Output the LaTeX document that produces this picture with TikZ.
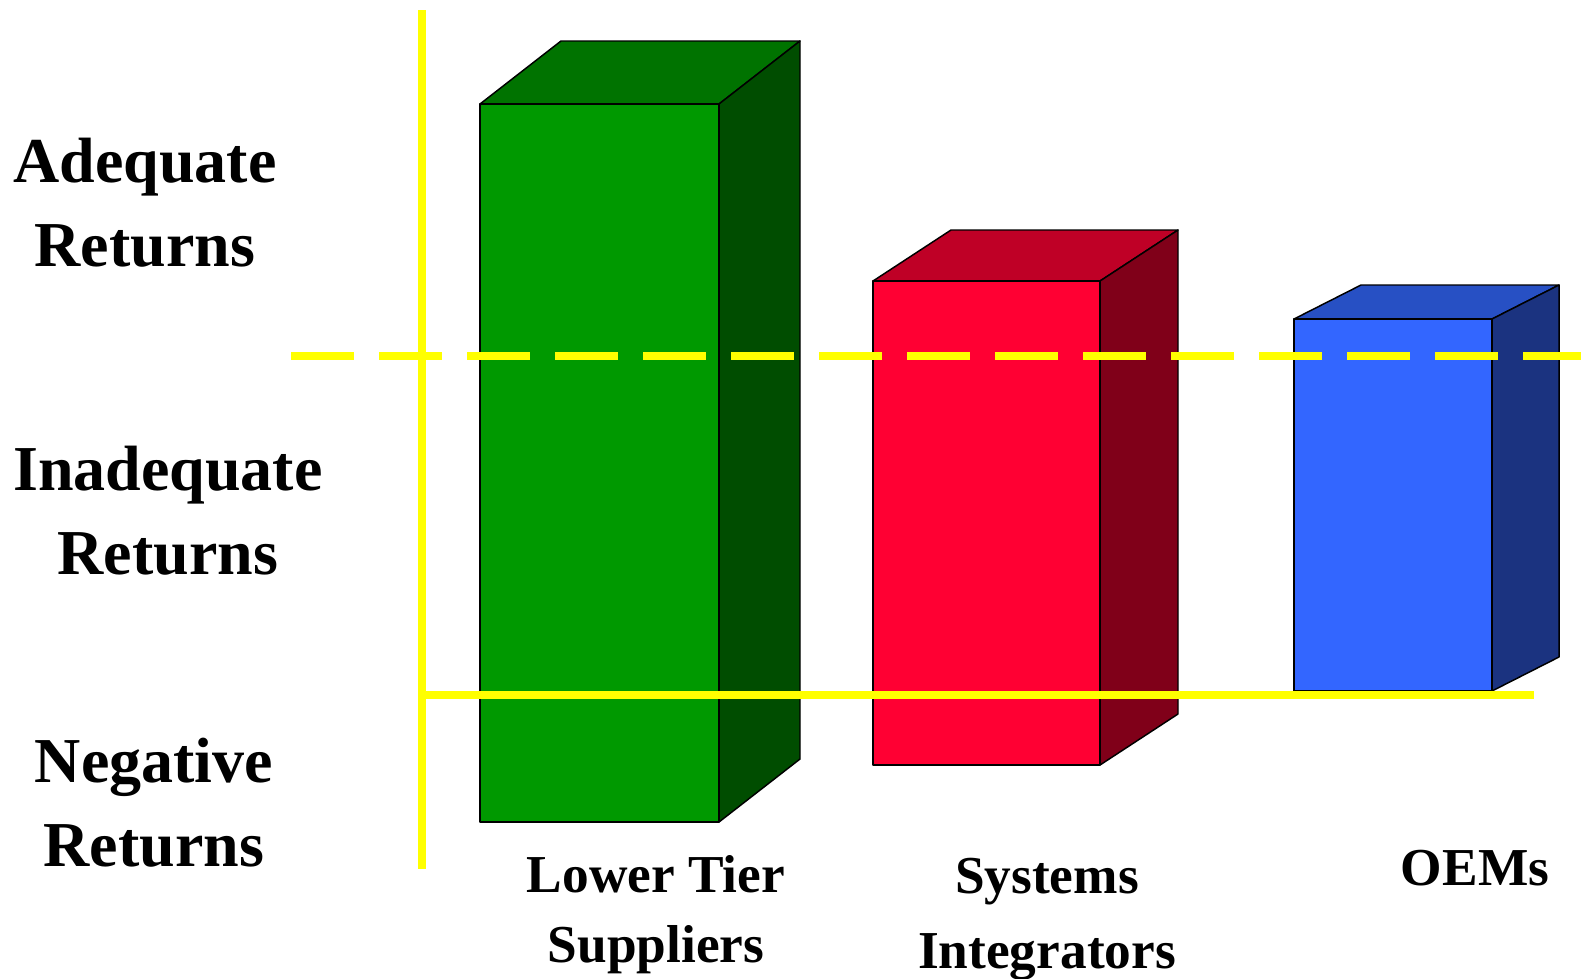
\documentclass[tikz,border=0pt]{standalone}
\usepackage{fontspec}
\setmainfont{Liberation Serif}

\definecolor{grnfront}{HTML}{009900}
\definecolor{grntop}{HTML}{007300}
\definecolor{grnside}{HTML}{004D00}
\definecolor{redfront}{HTML}{FF0033}
\definecolor{redtop}{HTML}{BF0026}
\definecolor{redside}{HTML}{800019}
\definecolor{bluefront}{HTML}{3366FF}
\definecolor{bluetop}{HTML}{2750C4}
\definecolor{blueside}{HTML}{1B3380}
\definecolor{marker}{HTML}{FFFF00}

\begin{document}
\begin{tikzpicture}[x=0.75pt, y=-0.75pt,
    barface/.style={draw=black, line width=1.1pt, line join=round},
    guide/.style={draw=marker, line width=6pt},
    sidelbl/.style={anchor=base, align=center, inner sep=0pt,
      font=\fontsize{48}{63}\selectfont\bfseries},
    barlbl/.style={anchor=base, align=center, inner sep=0pt,
      font=\fontsize{40}{52.5}\selectfont\bfseries}]
  \useasboundingbox (0,0) rectangle (1581,978);

  % lower tier suppliers
  \filldraw[barface, fill=grntop] (480,104) -- (561,41) -- (800,41) -- (719,104) -- cycle;
  \filldraw[barface, fill=grnside] (719,104) -- (800,41) -- (800,759) -- (719,822) -- cycle;
  \filldraw[barface, fill=grnfront] (480,104) rectangle (719,822);

  % systems integrators
  \filldraw[barface, fill=redtop] (873,281) -- (951,230) -- (1178,230) -- (1100,281) -- cycle;
  \filldraw[barface, fill=redside] (1100,281) -- (1178,230) -- (1178,714) -- (1100,765) -- cycle;
  \filldraw[barface, fill=redfront] (873,281) rectangle (1100,765);

  % oems
  \filldraw[barface, fill=bluetop] (1294,319) -- (1361,285) -- (1559,285) -- (1492,319) -- cycle;
  \filldraw[barface, fill=blueside] (1492,319) -- (1559,285) -- (1559,657) -- (1492,691) -- cycle;
  \filldraw[barface, fill=bluefront] (1294,319) rectangle (1492,691);

  % axis and return levels
  \coordinate (axtop) at (422,10);
  \coordinate (axbot) at (422,869);
  \coordinate (zeroL) at (418,695);
  \coordinate (zeroR) at (1534,695);
  \coordinate (adqL) at (291,356);
  \coordinate (adqR) at (1581,356);
  \draw[guide] (axtop) -- (axbot);
  \draw[guide] (zeroL) -- (zeroR);
  \draw[guide, dash pattern=on 47.25pt off 18.75pt] (adqL) -- (adqR);

  % labels (base = last line)
  \node[sidelbl] (adequate) at (145,266) {Adequate\\Returns};
  \node[sidelbl] (inadequate) at (168,574) {Inadequate\\Returns};
  \node[sidelbl] (negative) at (154,866) {Negative\\Returns};
  \node[barlbl] (lowertier) at (656,962) {Lower Tier\\Suppliers};
  \node[barlbl] (systems) at (1047,968) {Systems\\[3.5pt]Integrators};
  \node[barlbl] (oems) at (1475,885) {OEMs};
\end{tikzpicture}
\end{document}
